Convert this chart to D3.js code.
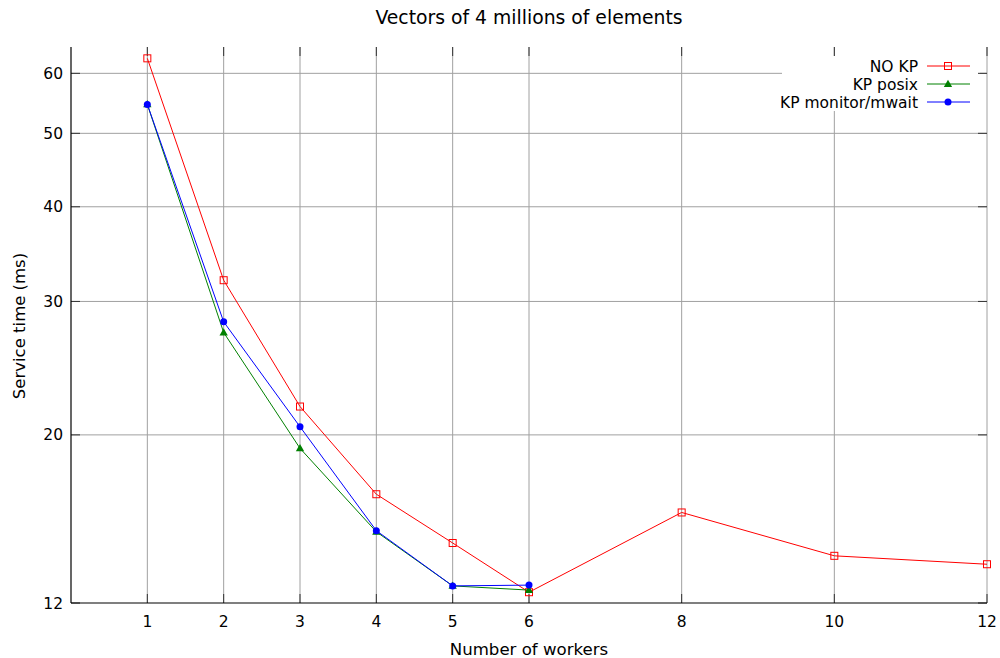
<!DOCTYPE html>
<html>
<head>
<meta charset="utf-8">
<script src="https://cdn.jsdelivr.net/npm/d3@7"></script>
<style>
  body { margin: 0; background: #fff; }
  svg text { font-family: "DejaVu Sans", sans-serif; fill: #000; }
</style>
</head>
<body>
<svg id="chart" width="1000" height="658"></svg>
<script>
// data
let xTicks = [1, 2, 3, 4, 5, 6, 8, 10, 12]
let yTicks = [12, 20, 30, 40, 50, 60]

let noKpX = [1, 2, 3, 4, 5, 6, 8, 10, 12]
let noKpY = [62.8, 32.0, 21.8, 16.7, 14.4, 12.4, 15.8, 13.85, 13.5]

let posixX = [1, 2, 3, 4, 5, 6]
let posixY = [54.6, 27.3, 19.2, 14.9, 12.64, 12.48]

let monitorX = [1, 2, 3, 4, 5, 6]
let monitorY = [54.6, 28.2, 20.5, 14.95, 12.64, 12.67]

let series = [
  {name: "NO KP", xs: noKpX, ys: noKpY, color: "#ff0000", marker: "square"},
  {name: "KP posix", xs: posixX, ys: posixY, color: "#008000", marker: "triangle"},
  {name: "KP monitor/mwait", xs: monitorX, ys: monitorY, color: "#0000ff", marker: "circle"}
]

let plotLeft = 71, plotRight = 987, plotTop = 47, plotBottom = 603
let svg = d3.select("#chart")

let x = d3.scaleLinear().domain([0, 12]).range([plotLeft, plotRight])
let y = d3.scaleLog().domain([12, 65]).range([plotBottom, plotTop])

// grid
svg.append("g")
  .selectAll("line")
  .data(xTicks)
  .enter()
  .append("line")
  .attr("x1", d => x(d)).attr("x2", d => x(d))
  .attr("y1", plotTop).attr("y2", plotBottom)
  .style("stroke", "#a0a0a0")
  .style("stroke-width", 1)

svg.append("g")
  .selectAll("line")
  .data(yTicks.filter(d => d != 12))
  .enter()
  .append("line")
  .attr("x1", plotLeft).attr("x2", plotRight)
  .attr("y1", d => y(d)).attr("y2", d => y(d))
  .style("stroke", "#a0a0a0")
  .style("stroke-width", 1)

// legend background hides part of the grid
svg.append("rect")
  .attr("x", 782).attr("y", 56)
  .attr("width", 198).attr("height", 55)
  .style("fill", "#fff")

// tick marks on all four sides (drawn inward)
let tickLen = 9
let tickG = svg.append("g").style("stroke", "#333").style("stroke-width", 1)
xTicks.forEach(d => {
  tickG.append("line").attr("x1", x(d)).attr("x2", x(d)).attr("y1", plotBottom).attr("y2", plotBottom - tickLen)
  tickG.append("line").attr("x1", x(d)).attr("x2", x(d)).attr("y1", plotTop).attr("y2", plotTop + tickLen)
})
yTicks.forEach(d => {
  tickG.append("line").attr("x1", plotLeft).attr("x2", plotLeft + tickLen).attr("y1", y(d)).attr("y2", y(d))
  tickG.append("line").attr("x1", plotRight).attr("x2", plotRight - tickLen).attr("y1", y(d)).attr("y2", y(d))
})

// axis borders (left and bottom)
svg.append("line")
  .attr("x1", plotLeft).attr("x2", plotLeft).attr("y1", plotTop).attr("y2", plotBottom)
  .style("stroke", "#000").style("stroke-width", 1.2)
svg.append("line")
  .attr("x1", plotLeft).attr("x2", plotRight).attr("y1", plotBottom).attr("y2", plotBottom)
  .style("stroke", "#000").style("stroke-width", 1.2)

// tick labels
svg.append("g")
  .selectAll("text")
  .data(xTicks)
  .enter()
  .append("text")
  .attr("x", d => x(d))
  .attr("y", plotBottom + 24)
  .attr("text-anchor", "middle")
  .style("font-size", "15.5px")
  .text(d => d)

svg.append("g")
  .selectAll("text")
  .data(yTicks)
  .enter()
  .append("text")
  .attr("x", plotLeft - 8)
  .attr("y", d => y(d) + 5.5)
  .attr("text-anchor", "end")
  .style("font-size", "15.5px")
  .text(d => d)

// titles
svg.append("text")
  .attr("x", 529).attr("y", 24)
  .attr("text-anchor", "middle")
  .style("font-size", "18.8px")
  .text("Vectors of 4 millions of elements")

svg.append("text")
  .attr("x", 529).attr("y", 655)
  .attr("text-anchor", "middle")
  .style("font-size", "16.6px")
  .text("Number of workers")

svg.append("text")
  .attr("transform", "translate(25, " + ((plotTop + plotBottom) / 2 + 1) + ") rotate(-90)")
  .attr("text-anchor", "middle")
  .style("font-size", "16.5px")
  .text("Service time (ms)")

function drawMarker(g, type, cx, cy, color) {
  if (type == "square") {
    g.append("rect")
      .attr("x", cx - 3.5).attr("y", cy - 3.5)
      .attr("width", 7).attr("height", 7)
      .style("fill", "none").style("stroke", color).style("stroke-width", 1)
  } else if (type == "triangle") {
    g.append("path")
      .attr("d", d3.symbol().type(d3.symbolTriangle).size(30)())
      .attr("transform", "translate(" + cx + "," + (cy + 0.5) + ")")
      .style("fill", color)
  } else {
    g.append("circle")
      .attr("cx", cx).attr("cy", cy).attr("r", 3.5)
      .style("fill", color)
  }
}

let line = d3.line().x(d => x(d[0])).y(d => y(d[1]))

series.forEach(s => {
  let pts = s.xs.map((v, i) => [v, s.ys[i]])
  let g = svg.append("g")
  g.append("path")
    .datum(pts)
    .attr("d", line)
    .style("fill", "none")
    .style("stroke", s.color)
    .style("stroke-width", 1)
  pts.forEach(p => drawMarker(g, s.marker, x(p[0]), y(p[1]), s.color))
})

// legend
series.forEach((s, i) => {
  let ly = 66 + i * 18
  svg.append("text")
    .attr("x", 918).attr("y", ly + 5.5)
    .attr("text-anchor", "end")
    .style("font-size", "15.5px")
    .text(s.name)
  svg.append("line")
    .attr("x1", 927).attr("x2", 970).attr("y1", ly).attr("y2", ly)
    .style("stroke", s.color).style("stroke-width", 1)
  drawMarker(svg, s.marker, 948, ly, s.color)
})
</script>
</body>
</html>
